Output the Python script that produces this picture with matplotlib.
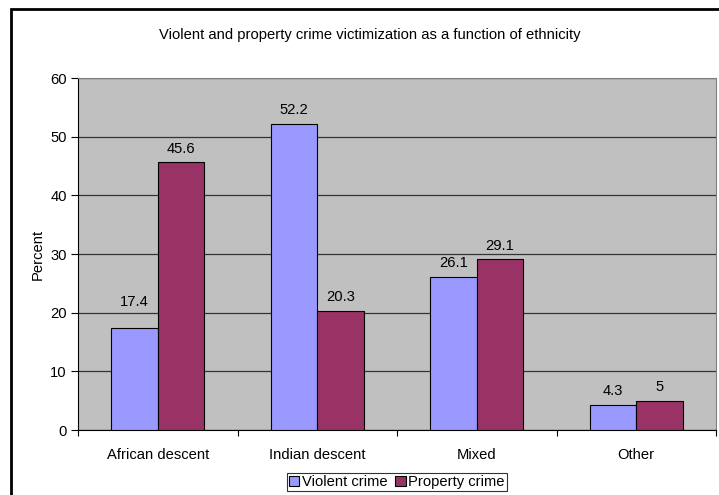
import matplotlib.pyplot as plt
import numpy as np
from matplotlib.patches import Rectangle

plt.rcParams['font.family'] = ['Liberation Sans', 'DejaVu Sans']

categories = ['African descent', 'Indian descent', 'Mixed', 'Other']
violent = [17.4, 52.2, 26.1, 4.3]
prop = [45.6, 20.3, 29.1, 5]
yticks = [0, 10, 20, 30, 40, 50, 60]

fs = 10.6

fig = plt.figure(figsize=(7.19, 4.95), dpi=100)
ax = fig.add_axes([78/719, 65/495, 638/719, 352/495])
ax.set_facecolor('#c0c0c0')

x = np.arange(len(categories))
w = 0.29
b1 = ax.bar(x - w/2, violent, w, color='#9999ff', edgecolor='black', linewidth=0.8,
            label='Violent crime', zorder=3)
b2 = ax.bar(x + w/2, prop, w, color='#993366', edgecolor='black', linewidth=0.8,
            label='Property crime', zorder=3)

# value labels; the first one is nudged up clear of the 20 gridline
lift = {(0, 0): 4.4}
for s, (bars, vals) in enumerate(((b1, violent), (b2, prop))):
    for i, (r, v) in enumerate(zip(bars, vals)):
        ax.text(r.get_x() + r.get_width()/2, v + lift.get((s, i), 2.3), '%g' % v,
                ha='center', va='center', fontsize=fs)

ax.set_xlim(-0.5, len(categories) - 0.5)
ax.set_ylim(0, 60)
ax.set_yticks(yticks)
ax.yaxis.grid(True, color='#333333', linewidth=0.9, zorder=1)
ax.set_axisbelow(True)

# category labels centred, ticks on the boundaries
ax.set_xticks(np.arange(-0.5, len(categories)), minor=False)
ax.set_xticklabels([])
ax.set_xticks(x, minor=True)
ax.set_xticklabels(categories, minor=True, fontsize=fs)
ax.tick_params(axis='x', which='minor', length=0, pad=13)
ax.tick_params(axis='x', which='major', length=4, direction='out', color='black')
ax.tick_params(axis='y', length=5, direction='out', labelsize=fs, pad=3)

for s in ('top', 'right'):
    ax.spines[s].set_color('#808080')
ax.spines['left'].set_color('black')
ax.spines['bottom'].set_color('black')

ax.set_ylabel('Percent', fontsize=fs, labelpad=4)
fig.text(370/719, 1 - 35/495, 'Violent and property crime victimization as a function of ethnicity',
         ha='center', va='center', fontsize=fs)

leg = fig.legend(handles=[b1, b2], loc='center', bbox_to_anchor=(397/719, 1 - 482/495),
                 ncol=2, fontsize=fs, frameon=True, fancybox=False, edgecolor='black',
                 handlelength=0.7, handleheight=0.7, handletextpad=0.2, columnspacing=0.5,
                 borderpad=0.15, borderaxespad=0)
leg.get_frame().set_linewidth(0.8)

fig.patches.append(Rectangle((11/719, -0.1), 1.2, 1.1 - 9/495, transform=fig.transFigure,
                             fill=False, edgecolor='black', linewidth=2))

fig.savefig('out.png', dpi=100)
